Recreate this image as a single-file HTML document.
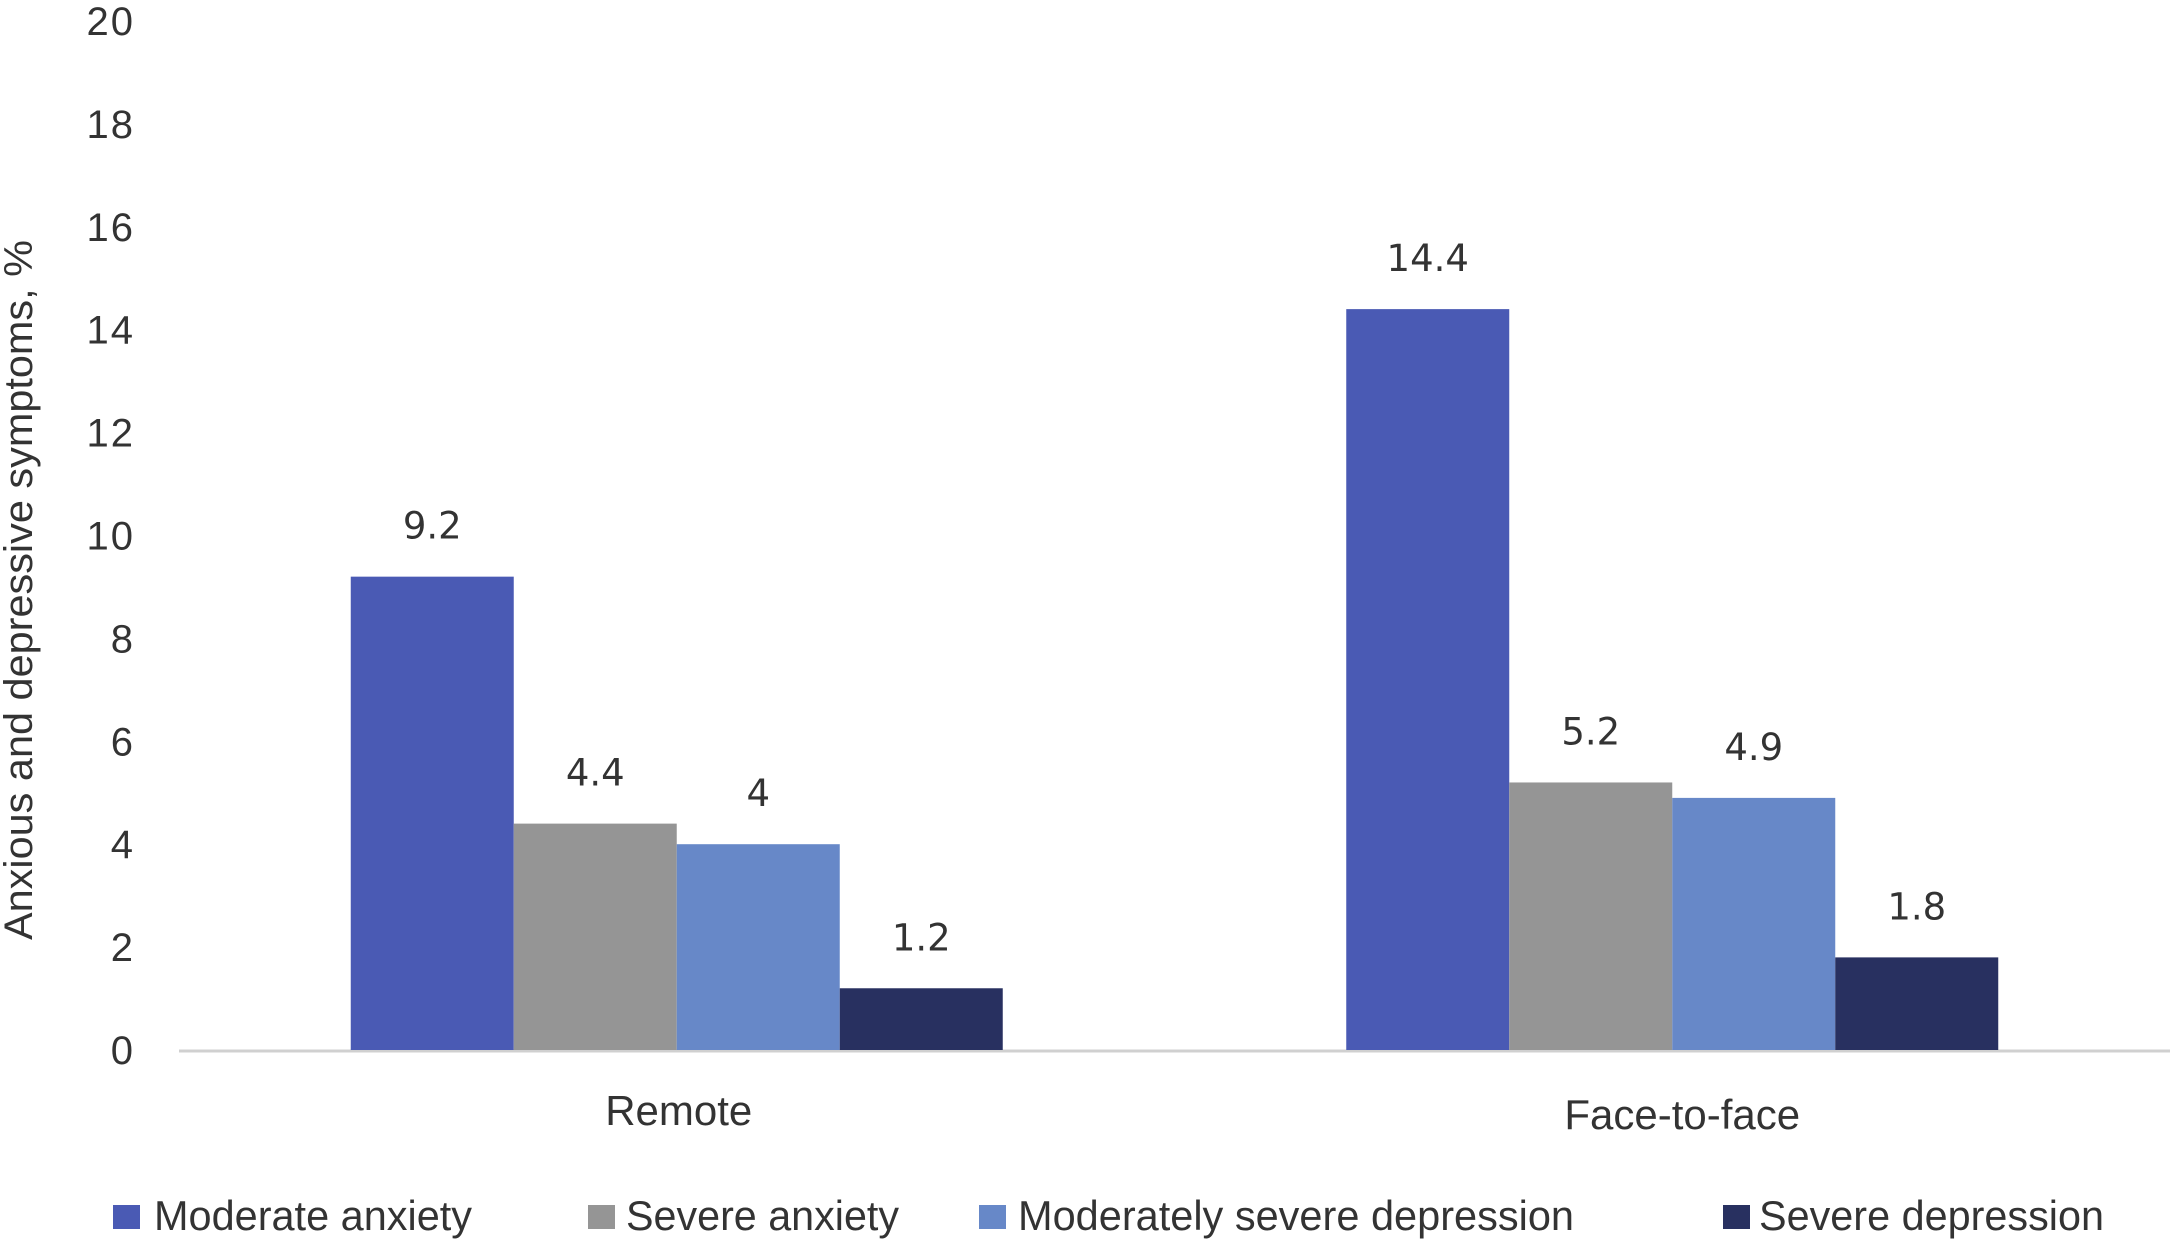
<!DOCTYPE html>
<html><head><meta charset="utf-8"><style>
html,body{margin:0;padding:0;background:#fff;}
svg{display:block;}
text{font-family:"Liberation Sans",sans-serif;fill:#333;}
</style></head><body>
<svg id="chart" width="2175" height="1244" viewBox="0 0 2175 1244" xmlns="http://www.w3.org/2000/svg">
<g id="grid"></g><g id="bars"></g><g id="labels"></g>
<text transform="translate(32,590) rotate(-90)" text-anchor="middle" font-size="40" textLength="700" lengthAdjust="spacingAndGlyphs" style="font-family:'Liberation Sans Narrow','Liberation Sans',sans-serif">Anxious and depressive symptoms, %</text>
<g id="legend"></g>
</svg>
<script>
const categories = ["Remote", "Face-to-face"];
const seriesNames = ["Moderate anxiety", "Severe anxiety", "Moderately severe depression", "Severe depression"];
const moderateAnxiety = [9.2, 14.4];
const severeAnxiety = [4.4, 5.2];
const modSevereDepression = [4, 4.9];
const severeDepression = [1.2, 1.8];
const yTicks = [0, 2, 4, 6, 8, 10, 12, 14, 16, 18, 20];

const series = [moderateAnxiety, severeAnxiety, modSevereDepression, severeDepression];
const colors = ["#4A5AB4", "#959595", "#6788C8", "#283060"];
const NS = "http://www.w3.org/2000/svg";
const x0 = 179, x1 = 2170, yBase = 1050, yTop = 21, yMax = 20;
const y = v => yBase - (v / yMax) * (yBase - yTop);
const catW = (x1 - x0) / categories.length;
const barW = 163;
const catX = i => x0 + catW * (i + 0.5);
function mk(tag, attrs, parent, txt) {
  const e = document.createElementNS(NS, tag);
  for (const k in attrs) e.setAttribute(k, attrs[k]);
  if (txt !== undefined) e.textContent = txt;
  parent.appendChild(e);
  return e;
}
const grid = document.getElementById('grid');
const bars = document.getElementById('bars');
const labels = document.getElementById('labels');
const legend = document.getElementById('legend');

yTicks.forEach(t => {
  const e = mk('text', {x: 135, y: y(t) + 14, 'text-anchor': 'end', 'font-size': 40, 'letter-spacing': 2}, grid, String(t));
  
  
});

series.forEach((vals, s) => {
  vals.forEach((v, i) => {
    const bx = catX(i) - 2 * barW + s * barW;
    const r = mk('rect', {x: bx, y: y(v), width: barW, height: yBase - y(v), fill: colors[s]}, bars);
    
    
    const l = mk('text', {x: bx + barW / 2, y: y(v) - 38, 'text-anchor': 'middle', style: "font-family:'DejaVu Sans',sans-serif", 'font-size': 37}, labels, String(v));
    
    
  });
});

const axis = mk('line', {x1: x0, x2: x1, y1: yBase + 1, y2: yBase + 1, stroke: '#d0d0d0', 'stroke-width': 3}, grid);



const catY = [1125, 1129];
const catDx = [2, 10];
categories.forEach((c, i) => {
  const e = mk('text', {x: catX(i) + catDx[i], y: catY[i], 'text-anchor': 'middle', 'font-size': 42}, labels, c);
  
  
});

const legSq = [113, 588, 979, 1723];
const legTx = [154, 626, 1018, 1759];
const legEnd = [472, 899, 1574, 2104];
seriesNames.forEach((n, s) => {
  const g = mk('g', {}, legend);
  
  
  mk('rect', {x: legSq[s], y: 1205, width: 27, height: 24, fill: colors[s]}, g);
  mk('text', {x: legTx[s], y: 1230, 'font-size': 42, textLength: legEnd[s] - legTx[s], lengthAdjust: 'spacingAndGlyphs'}, g, n);
});
</script>
</body></html>
